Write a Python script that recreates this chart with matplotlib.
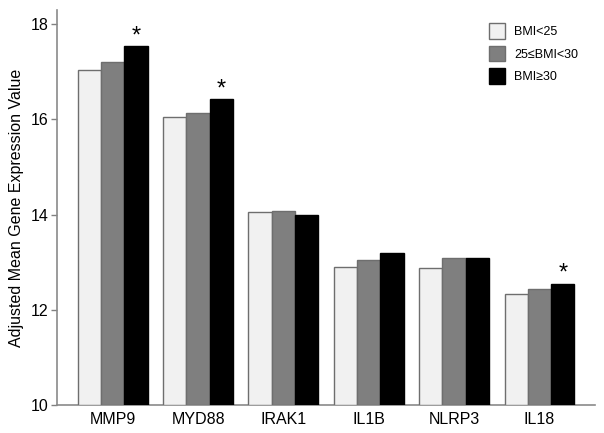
import numpy as np
import matplotlib
matplotlib.use('Agg')
import matplotlib.pyplot as plt
from matplotlib.patches import Patch

plt.rcParams['font.family'] = ['Liberation Sans', 'DejaVu Sans']

# 数据
genes = ['MMP9', 'MYD88', 'IRAK1', 'IL1B', 'NLRP3', 'IL18']
groups = ['BMI<25', '25≤BMI<30', 'BMI≥30']
bmi_lt25 = [17.03, 16.06, 14.05, 12.89, 12.87, 12.32]
bmi_25_30 = [17.21, 16.14, 14.07, 13.05, 13.09, 12.44]
bmi_ge30 = [17.55, 16.42, 14.00, 13.20, 13.09, 12.55]
significant = [True, True, False, False, False, True]

fig = plt.figure(figsize=(6.04, 4.33), dpi=100)
ax = fig.add_axes([0.094, 0.065, 0.891, 0.912])

x = np.arange(len(genes))
w = 0.273
colors = ['#f1f1f1', '#7f7f7f', '#000000']
edges = ['#6e6e6e', '#6e6e6e', '#000000']
series = [bmi_lt25, bmi_25_30, bmi_ge30]

for k, vals in enumerate(series):
    ax.bar(x + (k - 1) * w, np.array(vals) - 10, w, bottom=10,
           color=colors[k], edgecolor=edges[k], linewidth=1.0, zorder=3)

# 星号标注
for i, sig in enumerate(significant):
    if sig:
        ax.text(x[i] + w, bmi_ge30[i] - 0.03, '*', ha='center', va='bottom',
                fontsize=17, color='black')

ax.set_xlim(-0.656, 5.65)
ax.set_ylim(10, 18.3)
ax.set_xticks(x)
ax.set_xticklabels(genes, fontsize=11.5)
ax.tick_params(axis='x', length=0, pad=5)
ax.set_yticks([10, 12, 14, 16, 18])
ax.tick_params(axis='y', length=4, width=1, color='#808080', labelsize=11.5, pad=2)
ax.set_ylabel('Adjusted Mean Gene Expression Value', fontsize=11.5, labelpad=5)

for s in ['top', 'right']:
    ax.spines[s].set_visible(False)
for s in ['left', 'bottom']:
    ax.spines[s].set_color('#8a8a8a')
    ax.spines[s].set_linewidth(1.2)

handles = [Patch(facecolor=colors[k], edgecolor=edges[k], label=groups[k]) for k in range(3)]
ax.legend(handles=handles, loc='upper right', bbox_to_anchor=(0.99, 0.995), frameon=False,
          fontsize=9, handlelength=1.3, handleheight=1.55, handletextpad=0.75,
          labelspacing=0.55)

plt.savefig('out.png', dpi=100)
